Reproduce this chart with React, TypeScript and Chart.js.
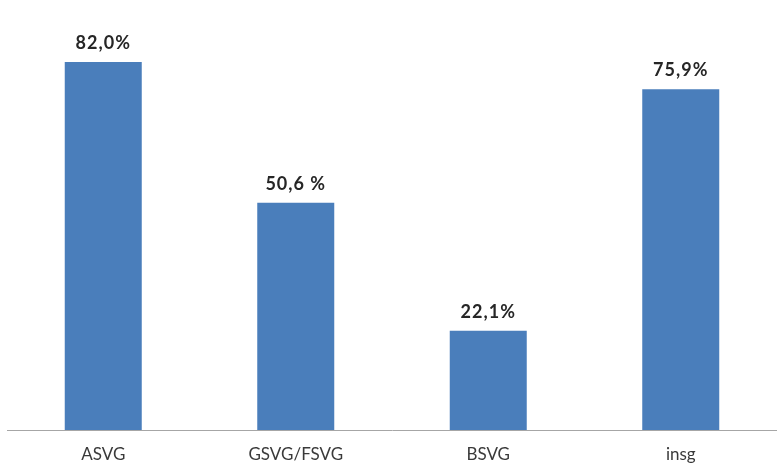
import React, { useEffect, useRef } from "react";
import { Chart, registerables } from "chart.js";

Chart.register(...registerables);

// Share of each category, in percent
const categories = ["ASVG", "GSVG/FSVG", "BSVG", "insg"];
const shares = [82.0, 50.6, 22.1, 75.9];
const valueSeparators = ["", " ", "", ""];

const BAR_BLUE = "#4a7ebb";
const FONT = "Lato, 'Open Sans', 'Liberation Sans', sans-serif";

const formatShare = (v: number, i: number) =>
  v.toFixed(1).replace(".", ",") + valueSeparators[i] + "%";

// Writes the value above each bar
const valueLabels = {
  id: "valueLabels",
  afterDatasetsDraw(chart: any) {
    const ctx = chart.ctx;
    const meta = chart.getDatasetMeta(0);
    ctx.save();
    ctx.font = `bold 18px ${FONT}`;
    (ctx as any).letterSpacing = "1px";
    ctx.fillStyle = "#262626";
    ctx.textAlign = "center";
    ctx.textBaseline = "alphabetic";
    meta.data.forEach((bar: any, i: number) => {
      ctx.fillText(formatShare(shares[i], i), bar.x, bar.y - 13);
    });
    ctx.restore();
  },
};

export default function App() {
  const canvasRef = useRef<HTMLCanvasElement | null>(null);

  useEffect(() => {
    if (!canvasRef.current) return;
    const chart = new Chart(canvasRef.current, {
      type: "bar",
      data: {
        labels: categories,
        datasets: [
          {
            data: shares,
            backgroundColor: BAR_BLUE,
            borderWidth: 0,
            barPercentage: 0.4,
            categoryPercentage: 1,
          },
        ],
      },
      options: {
        animation: false,
        responsive: false,
        maintainAspectRatio: false,
        layout: { padding: { top: 26, left: 7, right: 0, bottom: 0 } },
        plugins: {
          legend: { display: false },
          tooltip: { enabled: false },
        },
        scales: {
          y: {
            display: false,
            min: 0,
            max: 90,
          },
          x: {
            grid: { display: false, drawTicks: false },
            border: { display: true, color: "#a6a6a6", width: 1 },
            ticks: {
              color: "#3a3a3a",
              padding: 14,
              font: { family: FONT, size: 17 },
            },
            afterFit: (scale: any) => {
              scale.height = 37;
            },
          },
        },
      },
      plugins: [valueLabels],
    });
    return () => chart.destroy();
  }, []);

  return (
    <div style={{ position: "fixed", left: 0, top: 0, width: 777, height: 467, background: "#fff" }}>
      <canvas ref={canvasRef} width={777} height={467} style={{ display: "block" }} />
    </div>
  );
}
